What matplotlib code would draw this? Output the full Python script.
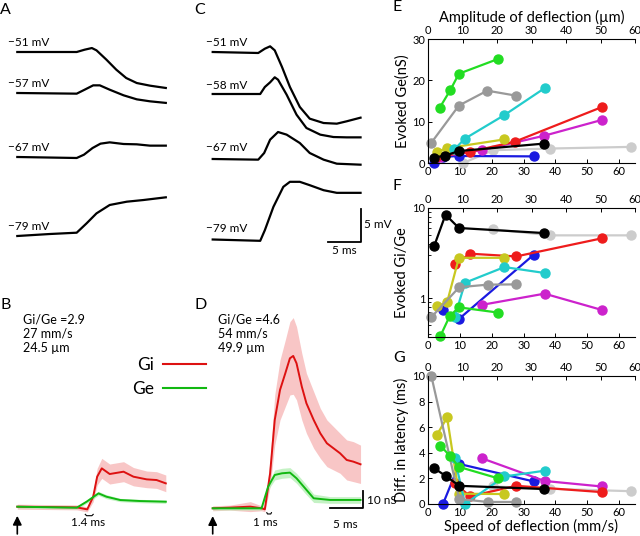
import numpy as np
import matplotlib
matplotlib.use('Agg')
import matplotlib.pyplot as plt
from matplotlib.lines import Line2D
from matplotlib.ticker import NullFormatter

plt.rcParams['font.family'] = ['Lato', 'DejaVu Sans']

W, H = 640, 536

# ---------------- data: voltage traces (ms, mV relative to baseline) ----------------
a_labels = ['−51 mV', '−57 mV', '−67 mV', '−79 mV']
a_t = [
    [0, 9.0, 10.2, 11.3, 12.0, 13.5, 15.0, 16.5, 18.1, 20.1, 22.5],
    [0, 9.0, 10.2, 11.5, 12.5, 14.0, 16.1, 18.1, 20.1, 22.5],
    [0, 9.0, 10.1, 11.4, 12.6, 14.0, 16.1, 18.1, 20.1, 22.5],
    [0, 4.9, 9.0, 10.5, 12.0, 14.0, 16.6, 19.1, 22.5],
]
a_v = [
    [0, 0, 0.35, 0.6, 0.25, -1.16, -2.68, -3.94, -4.7, -5.1, -5.45],
    [0, -0.1, 0.5, 1.16, 1.16, 0.5, -0.35, -0.96, -1.26, -1.5],
    [0, -0.15, 0.35, 1.36, 2.02, 2.22, 1.97, 1.92, 1.72, 1.72],
    [0, 0.3, 0.5, 1.92, 3.43, 4.7, 5.2, 5.45, 5.86],
]

c_labels = ['−51 mV', '−58 mV', '−67 mV', '−79 mV']
c_t = [
    [0, 6.9, 7.9, 8.7, 9.4, 10.5, 11.7, 13.2, 14.7, 16.8, 18.8, 20.3, 22.4],
    [0, 7.2, 7.9, 8.7, 9.4, 9.9, 11.2, 12.7, 14.2, 16.3, 18.3, 20.3, 22.4],
    [0, 6.9, 7.8, 8.7, 9.9, 11.2, 13.2, 14.7, 16.8, 18.8, 22.4],
    [0, 7.2, 7.9, 9.2, 10.7, 11.7, 13.2, 14.7, 16.8, 18.8, 22.4],
]
c_v = [
    [0, -0.15, 0.5, 0.86, 0.25, -2.27, -5.3, -8.33, -10.1, -10.76, -10.86, -10.5, -9.95],
    [0, 0, 1.06, 1.77, 2.53, 2.17, -0.1, -3.13, -5.15, -6.16, -6.52, -6.57, -6.57],
    [0, -0.1, 0.91, 2.93, 4.09, 3.69, 2.42, 0.91, -0.1, -0.71, -0.86],
    [0, -0.2, 1.41, 4.95, 7.98, 8.74, 8.74, 8.23, 7.47, 7.07, 7.07],
]

# ---------------- data: conductances (ms, nS) ----------------
b_gi_t = [0, 9.0, 10.6, 11.5, 12.1, 12.8, 14.0, 16.1, 17.6, 19.6, 21.1, 22.5]
b_gi = [0, -0.4, -1.6, 6, 18, 23, 19.6, 21, 18, 16.4, 16, 14]
b_gi_sd = [1.5, 1.5, 1.5, 3, 5, 6, 6, 6, 5.5, 5, 5, 5]
b_ge_t = [0, 9.0, 10.5, 12.3, 13.5, 15.6, 18.6, 22.5]
b_ge = [0, -0.6, 3, 8, 6, 4, 3.4, 3]
b_ge_sd = [0.8, 0.8, 1.0, 1.2, 1.2, 1.0, 1.0, 1.0]

d_gi_t = [0, 2.6, 5.7, 7.4, 7.9, 8.7, 9.4, 10.2, 11.0, 11.7, 12.2, 12.7, 13.5, 14.2,
          15.3, 16.3, 17.3, 18.3, 19.3, 20.3, 21.3, 22.4]
d_gi = [0, 0.4, 1, 0, -0.6, 21, 53, 71, 81, 90, 91.4, 87, 73, 63, 53, 45, 39, 36, 33, 29, 28, 26.4]
d_gi_sd = [1.5, 1.5, 3, 1.5, 1.5, 8, 15, 18, 20, 22, 23, 22, 20, 18, 17, 15, 14, 13, 12, 12, 12, 11.5]
d_ge_t = [0, 7.4, 8.4, 9.4, 10.5, 11.7, 12.7, 14.0, 15.3, 17.8, 22.4]
d_ge = [0, 0, 13, 20, 21, 21.4, 18, 12, 6, 5, 5]
d_ge_sd = [1, 1, 2, 3, 3, 3, 3, 3, 2.5, 2, 2]

# ---------------- data: population (speed mm/s, value) ----------------
cell_colors = {
    'lightgray': '#cccccc', 'blue': '#1a1ae0', 'magenta': '#cc22cc', 'red': '#ee1c1c',
    'yellow': '#c8c820', 'cyan': '#22cccc', 'gray': '#999999', 'green': '#22dd22',
    'black': '#000000',
}
ge_points = {
    'lightgray': ([11.05, 20.5, 38.4, 63.7], [0, 3.1, 3.5, 3.9]),
    'blue': ([1.9, 4.7, 9.8, 33.2], [0, 1.5, 1.7, 1.6]),
    'magenta': ([3.7, 16.8, 36.5, 54.5], [1.5, 3.1, 6.6, 10.4]),
    'red': ([2.4, 13.2, 27.4, 54.5], [1.5, 2.7, 5.2, 13.5]),
    'yellow': ([2.8, 6.0, 23.9], [2.7, 3.6, 5.7]),
    'cyan': ([8.3, 11.6, 24.0, 36.6], [3.3, 5.9, 11.6, 18.1]),
    'gray': ([1.05, 9.7, 18.6, 27.6], [4.9, 13.9, 17.5, 16.3]),
    'green': ([3.7, 7.05, 9.7, 22.1], [13.4, 17.7, 21.6, 25.2]),
    'black': ([1.9, 5.3, 9.8, 36.5], [1.3, 1.8, 2.9, 4.7]),
}
ratio_points = {
    'lightgray': ([20.5, 38.4, 63.7], [5.8, 4.97, 4.97]),
    'blue': ([4.7, 9.8, 33.2], [0.73, 0.59, 3.03]),
    'magenta': ([16.8, 36.6, 54.5], [0.84, 1.12, 0.74]),
    'red': ([8.4, 13.2, 27.7, 54.5], [2.37, 3.11, 2.9, 4.6]),
    'yellow': ([2.8, 6.0, 9.7, 24.0], [0.81, 0.90, 2.8, 2.8]),
    'cyan': ([8.4, 11.6, 24.0, 36.6], [0.615, 1.48, 2.21, 1.9]),
    'gray': ([1.05, 9.8, 18.7, 27.7], [0.615, 1.32, 1.41, 1.42]),
    'green': ([3.9, 6.8, 9.7, 22.1], [0.38, 0.63, 0.79, 0.69]),
    'black': ([1.9, 5.5, 9.7, 36.5], [3.75, 8.43, 6.0, 5.27]),
}
latency_points = {
    'lightgray': ([20.5, 38.4, 63.7], [1.37, 1.19, 1.0]),
    'blue': ([4.7, 9.8, 33.2], [0, 3.13, 1.76]),
    'magenta': ([16.8, 36.6, 54.5], [3.58, 1.8, 1.37]),
    'red': ([8.4, 13.2, 27.7, 54.5], [1.63, 0.6, 1.42, 0.93]),
    'yellow': ([2.8, 6.0, 9.7, 24.0], [5.4, 6.76, 0.8, 0.78]),
    'cyan': ([8.4, 11.6, 24.0, 36.6], [3.58, 0, 2.15, 2.6]),
    'gray': ([1.05, 9.8, 18.7, 27.7], [10, 0.39, 0.16, 0.16]),
    'green': ([3.9, 6.8, 9.7, 22.1], [4.56, 3.78, 2.9, 2.0]),
    'black': ([1.9, 5.5, 9.8, 36.5], [2.8, 2.2, 1.42, 1.17]),
}

# ---------------- layout helpers ----------------
MS = 6.6    # px per ms
MV = 6.6    # px per mV
NS = 1.667  # px per nS
SMALL = 8.5

fig = plt.figure(figsize=(W / 100, H / 100), dpi=100)


def rect(x0, y0, x1, y1):
    return [x0 / W, 1 - y1 / H, (x1 - x0) / W, (y1 - y0) / H]


def ftext(x, y, s, **kw):
    fig.text(x / W, 1 - y / H, s, **kw)


def trace_axes(x0, y0, x1, y1, t0, zero, unit):
    ax = fig.add_axes(rect(x0, y0, x1, y1))
    ax.set_xlim((x0 - t0) / MS, (x1 - t0) / MS)
    ax.set_ylim((zero - y1) / unit, (zero - y0) / unit)
    ax.axis('off')
    return ax


# ---------------- A and C ----------------
a_base = [52, 93, 157, 236]
axA = trace_axes(0, 0, 190, 280, 17.3, 280, MV)
for t, v, b in zip(a_t, a_v, a_base):
    axA.plot(t, np.array(v) + (280 - b) / MV, color='k', lw=1.6)
for lab, y in zip(a_labels, [48, 89, 153, 232]):
    ftext(8, y, lab, fontsize=SMALL, va='bottom')

c_base = [52, 94, 159, 239.5]
axC = trace_axes(190, 0, 400, 280, 212.7, 280, MV)
for t, v, b in zip(c_t, c_v, c_base):
    axC.plot(t, np.array(v) + (280 - b) / MV, color='k', lw=1.6)
for lab, y in zip(c_labels, [48, 91, 153, 234]):
    ftext(206, y, lab, fontsize=SMALL, va='bottom')
sb_y = (280 - 242.3) / MV
axC.plot([17.4, 22.4, 22.4], [sb_y, sb_y, sb_y + 5], color='k', lw=1.3)
ftext(364, 225, '5 mV', fontsize=SMALL, va='center')
ftext(344, 251, '5 ms', fontsize=SMALL, ha='center', va='center')

# ---------------- B and D ----------------
gi_col, gi_band = '#dd1111', '#f7b8b8'
ge_col, ge_band = '#11b811', '#b6efb6'


def cond_panel(ax, gi_t, gi, gi_sd, ge_t, ge, ge_sd):
    gi, gi_sd, ge, ge_sd = map(np.array, (gi, gi_sd, ge, ge_sd))
    ax.fill_between(gi_t, gi - gi_sd, gi + gi_sd, color=gi_band, lw=0, alpha=0.8)
    ax.fill_between(ge_t, ge - ge_sd, ge + ge_sd, color=ge_band, lw=0, alpha=0.8)
    ax.plot(gi_t, gi, color=gi_col, lw=1.4)
    ax.plot(ge_t, ge, color=ge_col, lw=1.4)


axB = trace_axes(0, 280, 190, 536, 17.3, 506.7, NS)
cond_panel(axB, b_gi_t, b_gi, b_gi_sd, b_ge_t, b_ge, b_ge_sd)
axB.annotate('', xy=(0, -3.8), xytext=(0, -18),
             arrowprops=dict(arrowstyle='-|>', color='k', lw=1.2, mutation_scale=13))
axB.plot([10.3, 10.5, 11.3, 11.5], [-4.6, -5.4, -5.4, -4.6], color='k', lw=0.8)
ftext(88, 522, '1.4 ms', fontsize=SMALL, ha='center', va='center')
ftext(23, 314, 'Gi/Ge =2.9\n27 mm/s\n24.5 µm', fontsize=9, va='top', linespacing=1.2)

axD = trace_axes(190, 280, 400, 536, 212.7, 508.3, NS)
cond_panel(axD, d_gi_t, d_gi, d_gi_sd, d_ge_t, d_ge, d_ge_sd)
axD.annotate('', xy=(0, -3.0), xytext=(0, -17),
             arrowprops=dict(arrowstyle='-|>', color='k', lw=1.2, mutation_scale=13))
axD.plot([8.2, 8.3, 8.8, 8.9], [-2.6, -3.4, -3.4, -2.6], color='k', lw=0.8)
axD.plot([17.8, 22.8, 22.8], [0.36, 0.36, 10.36], color='k', lw=1.3)
ftext(265, 522, '1 ms', fontsize=SMALL, ha='center', va='center')
ftext(367, 500, '10 nS', fontsize=SMALL, va='center')
ftext(345, 525, '5 ms', fontsize=SMALL, ha='center', va='center')
ftext(218, 314, 'Gi/Ge =4.6\n54 mm/s\n49.9 µm', fontsize=9, va='top', linespacing=1.2)

leg_handles = [Line2D([], [], color=gi_col, lw=1.5), Line2D([], [], color=ge_col, lw=1.5)]
fig.legend(leg_handles, ['Gi', 'Ge'], loc='upper left', bbox_to_anchor=(132 / W, 1 - 357 / H),
           frameon=False, markerfirst=False, fontsize=12.5, handlelength=2.5,
           handletextpad=0.5, labelspacing=0.45, borderaxespad=0, borderpad=0)

# ---------------- E, F, G ----------------
order = ['lightgray', 'blue', 'magenta', 'red', 'yellow', 'cyan', 'gray', 'green', 'black']
XMAX = 65
TICK = 8


def pop_axes(y0, y1, points, top_label=None):
    ax = fig.add_axes(rect(428, y0, 635, y1))
    for name in order:
        xs, ys = points[name]
        ax.plot(xs, ys, '-o', color=cell_colors[name], lw=1.6, ms=6.5, clip_on=False)
    ax.set_xlim(0, XMAX)
    ax.set_xticks(range(0, 61, 10))
    ax.spines['right'].set_visible(False)
    ax.spines['top'].set_visible(False)
    for sp in ax.spines.values():
        sp.set_linewidth(0.8)
    ax.tick_params(direction='in', length=3, width=0.7, labelsize=TICK, pad=2)
    ax.tick_params(which='minor', direction='in', length=1.8, width=0.6)
    sec = ax.secondary_xaxis('top', functions=(lambda s: s * 60 / XMAX, lambda a: a * XMAX / 60))
    sec.set_xticks(range(0, 61, 10))
    sec.tick_params(direction='in', length=3, width=0.7, labelsize=TICK, pad=2)
    sec.spines['top'].set_linewidth(0.8)
    if top_label:
        sec.set_xlabel(top_label, fontsize=10.5, labelpad=2)
    return ax


axE = pop_axes(39, 163, ge_points, 'Amplitude of deflection (µm)')
axE.set_ylim(0, 30)
axE.set_yticks([0, 10, 20, 30])
axE.set_ylabel('Evoked Ge(nS)', fontsize=10.5, labelpad=2)

axF = pop_axes(208, 337, ratio_points)
axF.set_yscale('log')
axF.set_ylim(0.37, 10)
axF.set_yticks([1, 10])
axF.set_yticklabels(['1', '10'])
axF.yaxis.set_minor_formatter(NullFormatter())
axF.set_ylabel('Evoked Gi/Ge', fontsize=10.5, labelpad=2)

axG = pop_axes(376, 504, latency_points)
axG.set_ylim(0, 10)
axG.set_yticks(range(0, 11, 2))
axG.set_ylabel('Diff. in latency (ms)', fontsize=10.5, labelpad=2)
axG.set_xlabel('Speed of deflection (mm/s)', fontsize=10.5, labelpad=1)

# ---------------- panel letters ----------------
for letter, x, y in [('A', 0, 3), ('C', 194, 3), ('B', 0, 298), ('D', 195, 298),
                     ('E', 393, 0), ('F', 393, 179), ('G', 393, 351)]:
    ftext(x, y, letter, fontsize=11.5, va='top')

fig.savefig('out.png', dpi=100)
